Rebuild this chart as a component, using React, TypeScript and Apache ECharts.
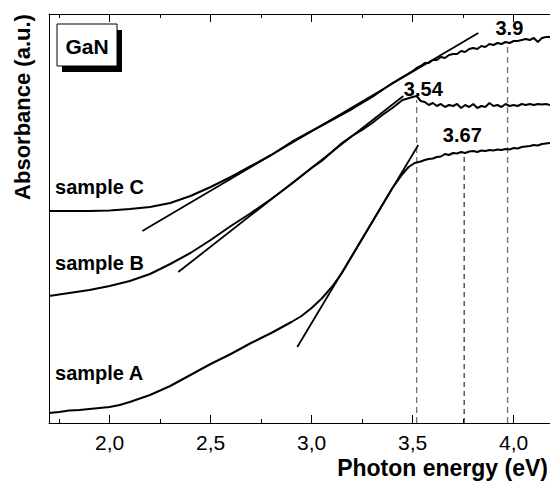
import React, { useEffect, useRef } from 'react';
import * as echarts from 'echarts';

// ---- axis ----
const X_MIN = 1.70;
const X_MAX = 4.18;
const Y_MIN = 0;
const Y_MAX = 4.09;
const majorTicks = [2.0, 2.5, 3.0, 3.5, 4.0];
const tickLabels = ['2,0', '2,5', '3,0', '3,5', '4,0'];
const minorTicks = [1.75, 2.25, 2.75, 3.25, 3.75];

// ---- sample A ----
const aEnergy = [1.70, 1.75, 1.80, 1.85, 1.90, 1.95, 2.00, 2.05, 2.10, 2.15, 2.20, 2.25, 2.30, 2.35, 2.40, 2.45, 2.50, 2.55, 2.60, 2.65, 2.70, 2.75, 2.80, 2.85, 2.90, 2.95,
  3.00, 3.05, 3.10, 3.15, 3.20, 3.25, 3.30, 3.35, 3.40, 3.45, 3.48, 3.51, 3.54,
  3.56, 3.58, 3.60, 3.62, 3.64, 3.66, 3.68, 3.70, 3.72, 3.74, 3.76, 3.78, 3.80, 3.82, 3.84, 3.86, 3.88, 3.90, 3.92, 3.94, 3.96, 3.98, 4.00, 4.02, 4.04, 4.06, 4.08, 4.10, 4.12, 4.14, 4.16, 4.18];
const aAbs = [0.10, 0.11, 0.125, 0.13, 0.14, 0.15, 0.16, 0.18, 0.21, 0.245, 0.28, 0.325, 0.37, 0.425, 0.48, 0.535, 0.59, 0.64, 0.69, 0.745, 0.80, 0.85, 0.90, 0.955, 1.01, 1.07,
  1.15, 1.245, 1.36, 1.50, 1.67, 1.84, 2.01, 2.18, 2.35, 2.49, 2.56, 2.60, 2.615,
  2.63, 2.64, 2.645, 2.66, 2.665, 2.69, 2.68, 2.70, 2.695, 2.71, 2.70, 2.715, 2.72, 2.71, 2.725, 2.72, 2.73, 2.725, 2.735, 2.73, 2.74, 2.735, 2.75, 2.745, 2.76, 2.765, 2.77, 2.78, 2.775, 2.79, 2.795, 2.80];

// ---- sample B ----
const bEnergy = [1.70, 1.80, 1.90, 2.00, 2.10, 2.20, 2.30, 2.40, 2.50, 2.60, 2.70, 2.80, 2.90, 3.00, 3.05, 3.10, 3.15, 3.20, 3.25, 3.30, 3.35, 3.40, 3.45, 3.50, 3.52,
  3.54, 3.56, 3.58, 3.60, 3.62, 3.64, 3.66, 3.68, 3.70, 3.72, 3.74, 3.76, 3.78, 3.80, 3.82, 3.84, 3.86, 3.88, 3.90, 3.92, 3.94, 3.96, 3.98, 4.00, 4.02, 4.04, 4.06, 4.08, 4.10, 4.12, 4.14, 4.16, 4.18];
const bAbs = [1.27, 1.30, 1.33, 1.37, 1.42, 1.49, 1.59, 1.70, 1.83, 1.97, 2.10, 2.24, 2.39, 2.55, 2.62, 2.71, 2.80, 2.87, 2.93, 3.00, 3.08, 3.15, 3.23, 3.26, 3.27,
  3.22, 3.21, 3.18, 3.20, 3.17, 3.19, 3.16, 3.18, 3.17, 3.19, 3.15, 3.18, 3.16, 3.19, 3.15, 3.17, 3.16, 3.20, 3.17, 3.18, 3.16, 3.19, 3.17, 3.18, 3.17, 3.19, 3.18, 3.19, 3.18, 3.19, 3.185, 3.19, 3.18];

// ---- sample C ----
const cEnergy = [1.70, 1.80, 1.90, 2.00, 2.10, 2.20, 2.30, 2.40, 2.50, 2.60, 2.70, 2.80, 2.90, 3.00, 3.10, 3.20, 3.30, 3.40, 3.45, 3.50,
  3.52, 3.54, 3.56, 3.58, 3.60, 3.62, 3.64, 3.66, 3.68, 3.70, 3.72, 3.74, 3.76, 3.78, 3.80, 3.82, 3.84, 3.86, 3.88, 3.90, 3.92, 3.94, 3.96, 3.98, 4.00, 4.02, 4.04, 4.06, 4.08, 4.10, 4.12, 4.14, 4.16, 4.18];
const cAbs = [2.12, 2.12, 2.12, 2.125, 2.14, 2.16, 2.20, 2.27, 2.36, 2.46, 2.57, 2.68, 2.81, 2.92, 3.03, 3.14, 3.26, 3.40, 3.46, 3.52,
  3.55, 3.57, 3.60, 3.60, 3.63, 3.63, 3.66, 3.65, 3.68, 3.69, 3.69, 3.72, 3.71, 3.74, 3.75, 3.74, 3.77, 3.76, 3.79, 3.78, 3.80, 3.79, 3.81, 3.80, 3.82, 3.82, 3.83, 3.84, 3.83, 3.85, 3.81, 3.85, 3.86, 3.86];

// ---- linear fits (tangents) ----
const tangentA = [[2.929, 0.76], [3.528, 2.78]];
const tangentB = [[2.340, 1.51], [3.454, 3.27]];
const tangentC = [[2.162, 1.92], [3.825, 3.90]];

// ---- band-gap markers ----
const markerEnergy = [3.52, 3.755, 3.97];
const markerTop = [3.23, 2.68, 3.80];
const gapLabels = ['3.54', '3.67', '3.9'];
const gapLabelX = [3.553, 3.746, 3.979];
const gapLabelY = [3.34, 2.88, 3.95];

// ---- sample names ----
const sampleNames = ['sample A', 'sample B', 'sample C'];
const sampleLabelX = 1.73;
const sampleLabelY = [0.50, 1.60, 2.36];

const FONT = "'Liberation Sans', Arial, Helvetica, sans-serif";

const zip = (xs: number[], ys: number[]) => xs.map((x, i) => [x, ys[i]]);

export default function App() {
  const ref = useRef<HTMLDivElement>(null);
  useEffect(() => {
    document.body.style.margin = '0';
    if (!ref.current) return;
    const chart = echarts.init(ref.current, undefined, { renderer: 'svg' });

    const baseX = {
      type: 'value',
      min: X_MIN,
      max: X_MAX,
      gridIndex: 0,
      splitLine: { show: false },
    };

    const lineSeries = (name: string, data: number[][], width: number) => ({
      name,
      type: 'line',
      data,
      showSymbol: false,
      symbol: 'none',
      lineStyle: { color: '#000', width },
      z: 3,
    });

    const markerSeries = markerEnergy.map((e, i) => ({
      name: 'marker' + i,
      type: 'line',
      data: [[e, Y_MIN], [e, markerTop[i]]],
      showSymbol: false,
      symbol: 'none',
      lineStyle: {
        color: i === 1 ? '#000' : '#777',
        width: i === 1 ? 1 : 1.4,
        type: i === 1 ? [5, 4] : [6, 4],
      },
      z: 2,
    }));

    const labelBase = {
      show: true,
      position: 'inside',
      formatter: (p: any) => p.name,
      fontSize: 20,
      fontWeight: 'bold',
      fontFamily: FONT,
      color: '#000',
      opacity: 1,
    };

    const option: any = {
      animation: false,
      backgroundColor: '#fff',
      grid: { left: 49, right: 0, top: 14, bottom: 58 },
      xAxis: [
        {
          ...baseX,
          position: 'bottom',
          axisLine: { show: true, lineStyle: { color: '#000', width: 1 } },
          axisTick: { show: true, inside: true, length: 8, customValues: majorTicks, lineStyle: { color: '#000', width: 1 } },
          axisLabel: {
            show: true,
            customValues: majorTicks,
            formatter: (v: number) => {
              const i = majorTicks.findIndex((t) => Math.abs(t - v) < 1e-6);
              return i >= 0 ? tickLabels[i] : '';
            },
            fontSize: 21,
            fontFamily: FONT,
            color: '#000',
            margin: 9,
          },
        },
        {
          ...baseX,
          position: 'bottom',
          axisLine: { show: false },
          axisTick: { show: true, inside: true, length: 4, customValues: minorTicks, lineStyle: { color: '#000', width: 1 } },
          axisLabel: { show: false },
        },
        {
          ...baseX,
          position: 'top',
          axisLine: { show: true, lineStyle: { color: '#000', width: 1 } },
          axisTick: { show: true, inside: true, length: 8, customValues: majorTicks, lineStyle: { color: '#000', width: 1 } },
          axisLabel: { show: false },
        },
        {
          ...baseX,
          position: 'top',
          axisLine: { show: false },
          axisTick: { show: true, inside: true, length: 4, customValues: minorTicks, lineStyle: { color: '#000', width: 1 } },
          axisLabel: { show: false },
        },
      ],
      yAxis: {
        type: 'value',
        min: Y_MIN,
        max: Y_MAX,
        axisLine: { show: true, lineStyle: { color: '#000', width: 1 } },
        axisTick: { show: false },
        axisLabel: { show: false },
        splitLine: { show: false },
      },
      series: [
        ...markerSeries,
        lineSeries('sample A', zip(aEnergy, aAbs), 2),
        lineSeries('sample B', zip(bEnergy, bAbs), 2),
        lineSeries('sample C', zip(cEnergy, cAbs), 2),
        lineSeries('fit A', tangentA, 1.8),
        lineSeries('fit B', tangentB, 1.8),
        lineSeries('fit C', tangentC, 1.8),
        {
          name: 'gap labels',
          type: 'scatter',
          symbolSize: 0,
          itemStyle: { opacity: 1 },
          data: gapLabels.map((t, i) => ({ name: t, value: [gapLabelX[i], gapLabelY[i]] })),
          label: { ...labelBase },
          z: 5,
        },
        {
          name: 'sample labels',
          type: 'scatter',
          symbolSize: 0,
          itemStyle: { opacity: 1 },
          data: sampleNames.map((t, i) => ({ name: t, value: [sampleLabelX, sampleLabelY[i]] })),
          label: { ...labelBase, align: 'left', verticalAlign: 'middle' },
          z: 5,
        },
      ],
      graphic: [
        {
          type: 'text',
          x: 22,
          y: 107,
          rotation: Math.PI / 2,
          style: {
            text: 'Absorbance (a.u.)',
            fontSize: 22,
            fontWeight: 'bold',
            fontFamily: FONT,
            fill: '#000',
            align: 'center',
            verticalAlign: 'middle',
          },
        },
        {
          type: 'text',
          x: 548,
          y: 468,
          style: {
            text: 'Photon energy (eV)',
            fontSize: 23,
            fontWeight: 'bold',
            fontFamily: FONT,
            fill: '#000',
            align: 'right',
            verticalAlign: 'middle',
          },
        },
        {
          type: 'rect',
          shape: { x: 62, y: 30, width: 60, height: 42 },
          style: { fill: '#000' },
          z: 10,
        },
        {
          type: 'rect',
          shape: { x: 57, y: 24, width: 60, height: 42 },
          style: { fill: '#fff', stroke: '#000', lineWidth: 1 },
          z: 11,
        },
        {
          type: 'text',
          x: 87,
          y: 46,
          style: {
            text: 'GaN',
            fontSize: 21,
            fontWeight: 'bold',
            fontFamily: FONT,
            fill: '#000',
            align: 'center',
            verticalAlign: 'middle',
          },
          z: 12,
        },
      ],
    };
    chart.setOption(option);
    return () => chart.dispose();
  }, []);
  return <div ref={ref} style={{ width: 550, height: 481 }} />;
}
